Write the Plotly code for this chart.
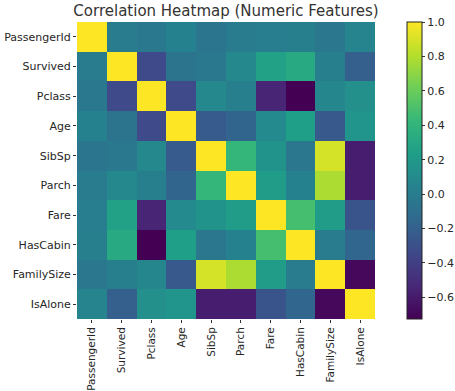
import plotly.graph_objects as go

features = ["PassengerId", "Survived", "Pclass", "Age", "SibSp", "Parch",
            "Fare", "HasCabin", "FamilySize", "IsAlone"]

# correlation matrix rows (Titanic features)
r_passengerid = [1.000, -0.005, -0.035, 0.034, -0.058, -0.002, 0.013, 0.020, -0.040, 0.057]
r_survived    = [-0.005, 1.000, -0.338, -0.065, -0.035, 0.082, 0.257, 0.317, 0.017, -0.203]
r_pclass      = [-0.035, -0.338, 1.000, -0.339, 0.083, 0.018, -0.549, -0.726, 0.066, 0.135]
r_age         = [0.034, -0.065, -0.339, 1.000, -0.233, -0.172, 0.097, 0.240, -0.245, 0.171]
r_sibsp       = [-0.058, -0.035, 0.083, -0.233, 1.000, 0.415, 0.160, -0.040, 0.891, -0.584]
r_parch       = [-0.002, 0.082, 0.018, -0.172, 0.415, 1.000, 0.216, 0.036, 0.783, -0.583]
r_fare        = [0.013, 0.257, -0.549, 0.097, 0.160, 0.216, 1.000, 0.482, 0.217, -0.272]
r_hascabin    = [0.020, 0.317, -0.726, 0.240, -0.040, 0.036, 0.482, 1.000, -0.009, -0.158]
r_familysize  = [-0.040, 0.017, 0.066, -0.245, 0.891, 0.783, 0.217, -0.009, 1.000, -0.690]
r_isalone     = [0.057, -0.203, 0.135, 0.171, -0.584, -0.583, -0.272, -0.158, -0.690, 1.000]

matrix = [r_passengerid, r_survived, r_pclass, r_age, r_sibsp, r_parch,
          r_fare, r_hascabin, r_familysize, r_isalone]

cbar_ticks = [-0.6, -0.4, -0.2, 0.0, 0.2, 0.4, 0.6, 0.8, 1.0]

W, H = 455, 391
L, R, T, B = 77, 80, 22, 72
pw = W - L - R

font_main = "DejaVu Sans"
txt = "#262626"

fig = go.Figure(go.Heatmap(
    z=matrix, x=features, y=features,
    colorscale="Viridis",
    zmin=min(min(r) for r in matrix), zmax=1.0,
    xgap=0, ygap=0,
    colorbar=dict(
        x=(406.5 - L) / pw, xanchor="left", xref="paper", xpad=0,
        y=0.5, yanchor="middle", len=1.0, lenmode="fraction", ypad=0,
        thickness=15, outlinewidth=1, outlinecolor="#222",
        tickvals=cbar_ticks, tickformat=".1f",
        ticks="outside", ticklen=3, tickwidth=1, tickcolor="#333",
        tickfont=dict(family=font_main, size=11, color=txt),
    ),
))

fig.update_layout(
    width=W, height=H,
    margin=dict(l=L, r=R, t=T, b=B, autoexpand=False),
    paper_bgcolor="white", plot_bgcolor="white",
    title=dict(text="Correlation Heatmap (Numeric Features)",
               x=0.5, xref="paper", xanchor="center",
               y=1 - 11 / H, yref="container", yanchor="middle",
               font=dict(family=font_main, size=15, color="#333")),
    font=dict(family=font_main, size=11, color=txt),
)

axis_common = dict(
    showgrid=True, gridcolor="rgba(255,255,255,0.45)", gridwidth=1, griddash="dash",
    ticks="outside", ticklen=3, tickwidth=1, tickcolor="#333",
    layer="above traces", showline=False, zeroline=False, automargin=False,
)

fig.update_xaxes(**axis_common, tickangle=-90,
                 tickfont=dict(family=font_main, size=10.5, color=txt))
fig.update_yaxes(**axis_common, autorange="reversed",
                 tickfont=dict(family=font_main, size=11, color=txt))

fig.write_html("out.html",
               config={"displayModeBar": False},
               post_script="document.body.style.margin='0';document.body.style.overflow='hidden';")
